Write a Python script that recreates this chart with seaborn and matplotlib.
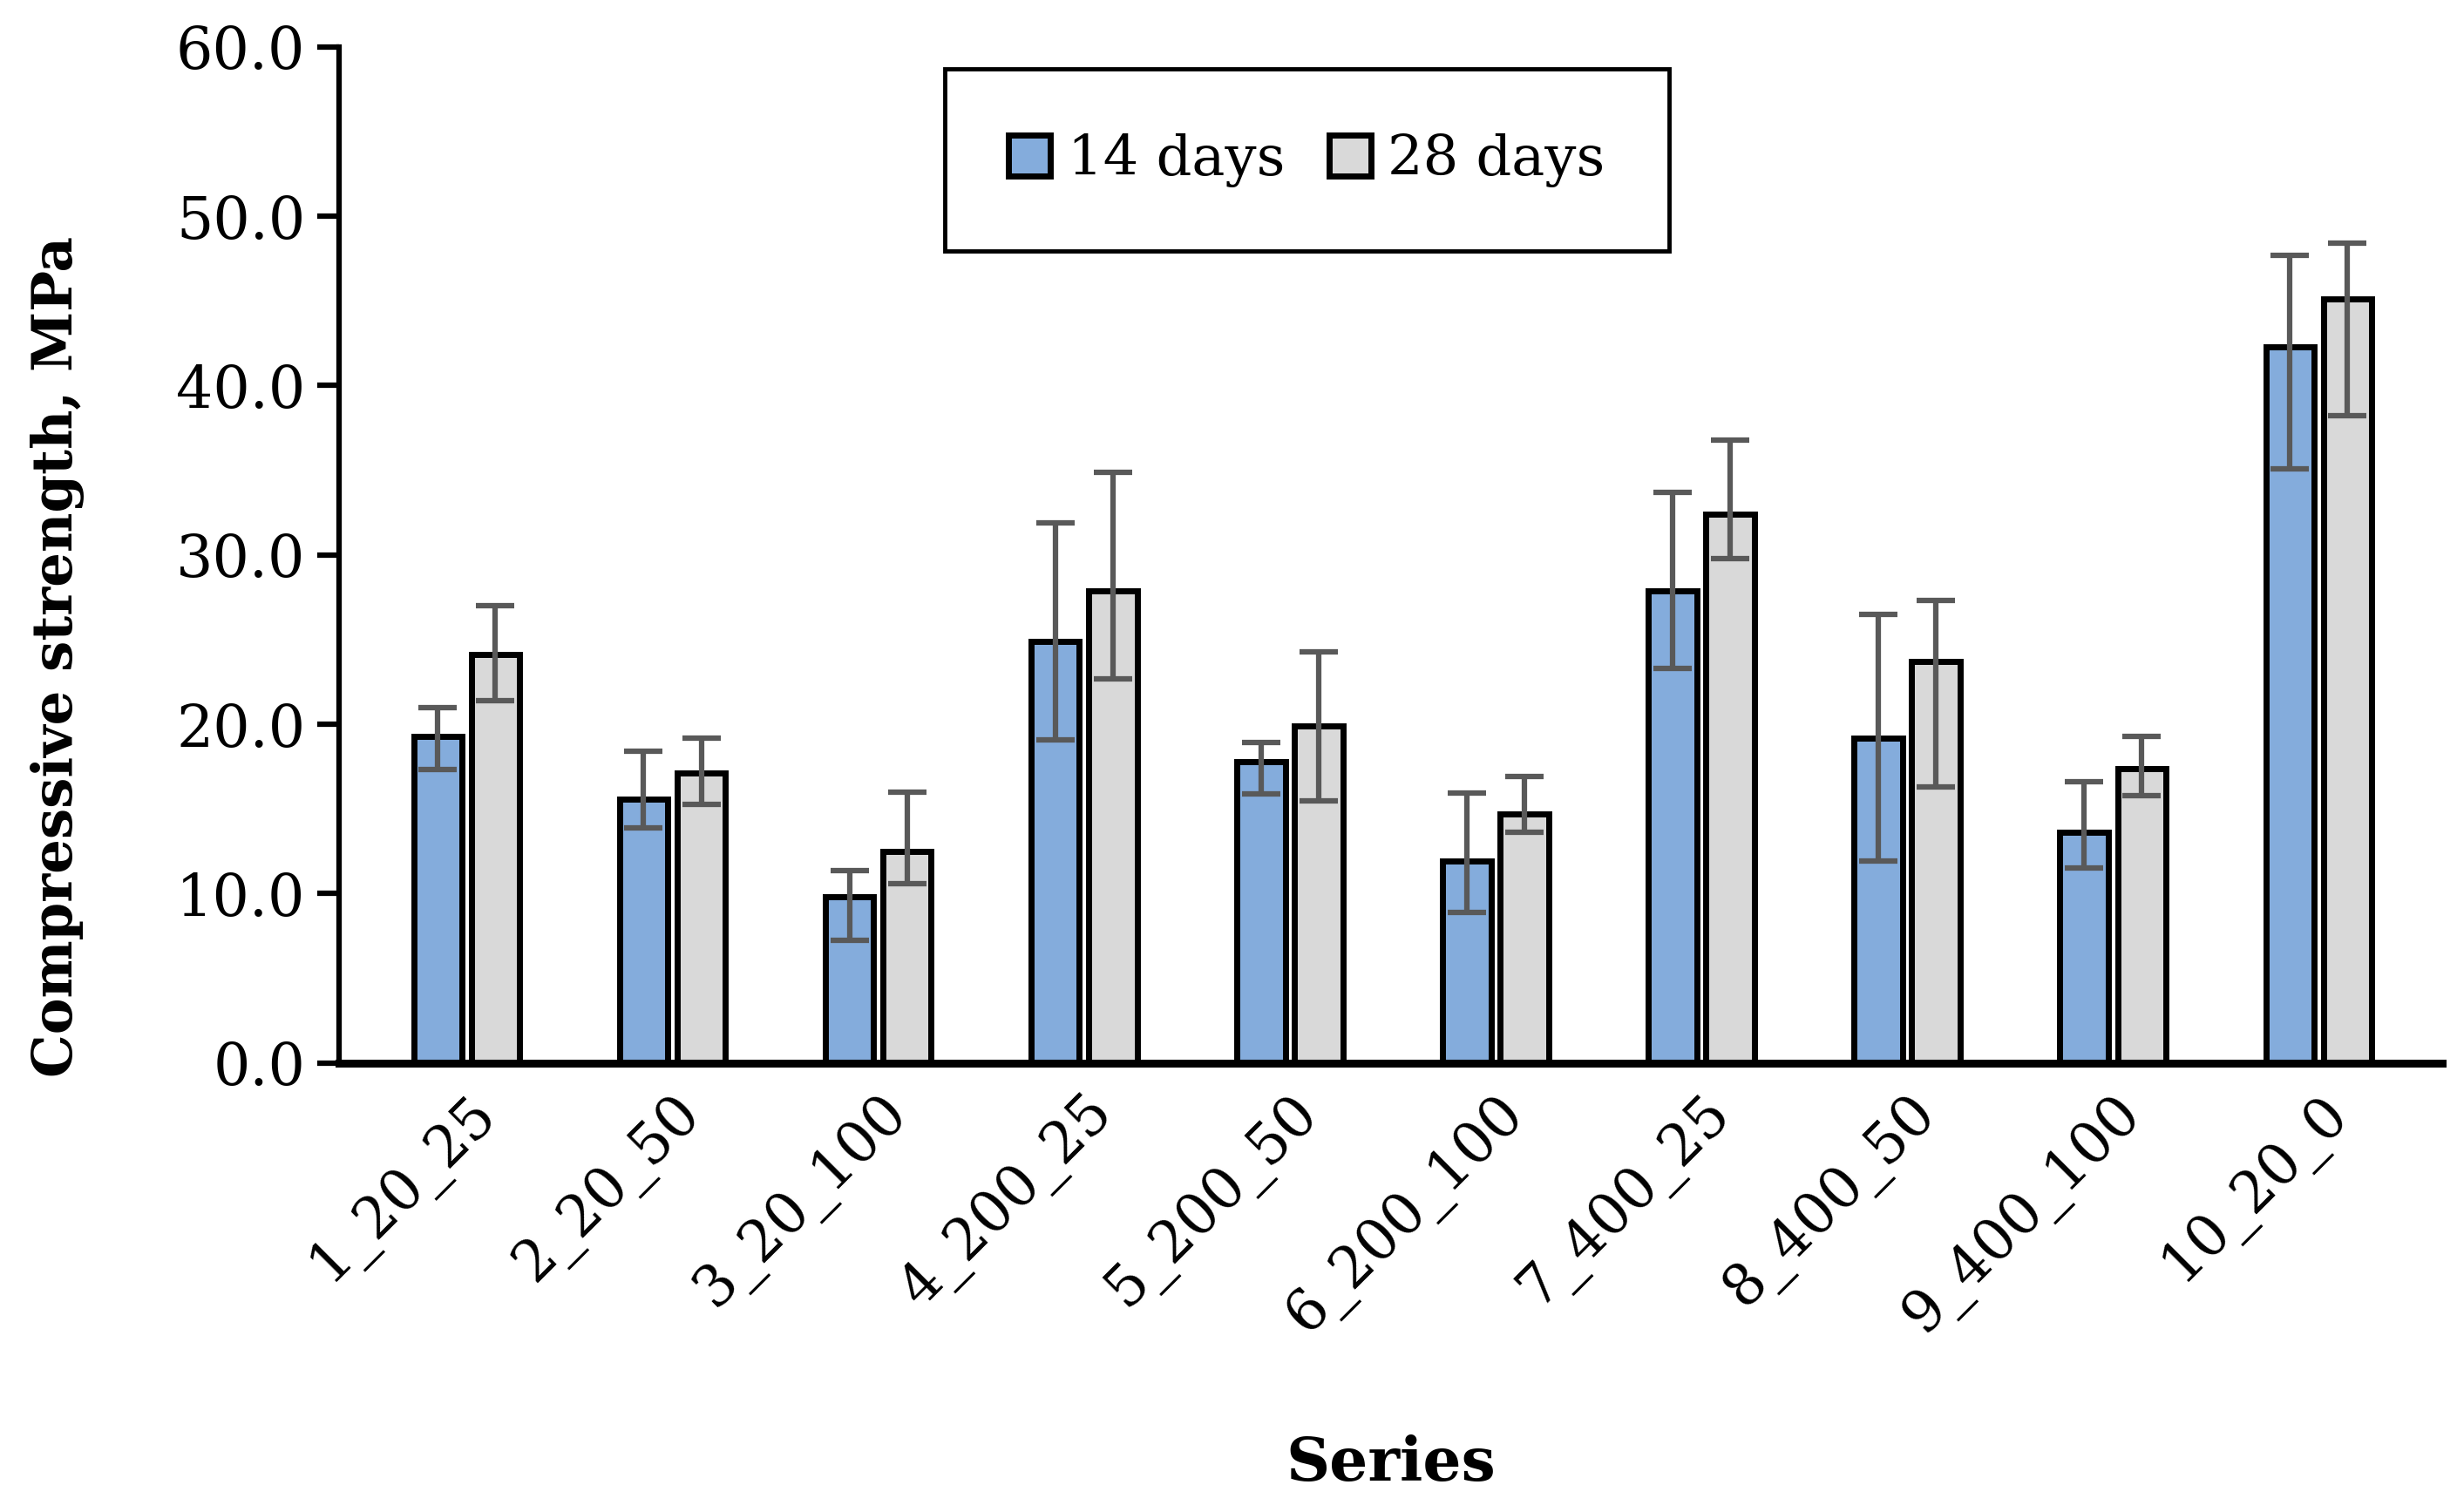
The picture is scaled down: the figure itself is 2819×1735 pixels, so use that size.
import matplotlib
matplotlib.use("Agg")
import matplotlib.pyplot as plt
import seaborn as sns
import pandas as pd
import numpy as np

series = ["1_20_25", "2_20_50", "3_20_100", "4_200_25", "5_200_50",
          "6_200_100", "7_400_25", "8_400_50", "9_400_100", "10_20_0"]
ages = ["14 days", "28 days"]

# mean strength, MPa
s14 = [19.3, 15.6, 9.8, 24.9, 17.8, 11.9, 27.9, 19.2, 13.6, 42.3]
s28 = [24.1, 17.1, 12.5, 27.9, 19.9, 14.7, 32.4, 23.7, 17.4, 45.1]
# error bar ends (low, high), MPa
lo14 = [17.35, 13.9, 7.25, 19.1, 15.9, 8.9, 23.3, 11.9, 11.5, 35.1]
hi14 = [21.0, 18.4, 11.35, 31.9, 18.9, 15.95, 33.7, 26.5, 16.6, 47.7]
lo28 = [21.4, 15.25, 10.6, 22.7, 15.5, 13.6, 29.8, 16.3, 15.8, 38.2]
hi28 = [27.0, 19.2, 16.0, 34.9, 24.3, 16.9, 36.8, 27.3, 19.3, 48.4]

colors = ["#84ACDC", "#D9D9D9"]

df = pd.DataFrame({
    "Series": series * 2,
    "Age": [ages[0]] * len(series) + [ages[1]] * len(series),
    "Strength": s14 + s28,
})

sns.set_style("white")
plt.rcParams["font.family"] = ["DejaVu Serif"]
plt.rcParams["text.color"] = "black"
plt.rcParams["axes.labelcolor"] = "black"
plt.rcParams["xtick.color"] = "black"
plt.rcParams["ytick.color"] = "black"

fig = plt.figure(figsize=(28.19, 17.35), dpi=100)
ax = fig.add_axes([0.138, 0.297, 0.856, 0.672])

sns.barplot(data=df, x="Series", y="Strength", hue="Age", palette=colors,
            saturation=1, width=0.56, gap=0.16, edgecolor="black",
            linewidth=5, errorbar=None, ax=ax)

lows = [lo14, lo28]
highs = [hi14, hi28]
means = [s14, s28]
bar_groups = list(ax.containers)
for k, cont in enumerate(bar_groups):
    xs = [p.get_x() + p.get_width() / 2 for p in cont.patches]
    m = np.array(means[k])
    yerr = [m - np.array(lows[k]), np.array(highs[k]) - m]
    ax.errorbar(xs, m, yerr=yerr, fmt="none", ecolor="#595959",
                elinewidth=4.5, capsize=16, capthick=4.5, zorder=5)

ax.set_ylim(0, 60)
ax.set_xlim(-0.62, 9.6)
ax.set_yticks(np.arange(0, 61, 10))
ax.set_yticklabels([f"{v:.1f}" for v in np.arange(0, 61, 10)], fontsize=48)
ax.set_xticks(range(len(series)))
ax.set_xticklabels(series, rotation=45, ha="right", rotation_mode="anchor",
                   fontsize=47)

for s in ["top", "right"]:
    ax.spines[s].set_visible(False)
ax.spines["left"].set_linewidth(4.5)
ax.spines["bottom"].set_linewidth(6.5)
ax.spines["left"].set_color("black")
ax.spines["bottom"].set_color("black")
ax.tick_params(axis="y", direction="out", length=18, width=4.5, left=True, pad=10)
ax.tick_params(axis="x", length=0, pad=18)

ax.set_ylabel("Compressive strength, MPa", fontsize=45, fontweight="bold")
ax.yaxis.set_label_coords(-0.121, 0.40)
ax.set_xlabel("Series", fontsize=50, fontweight="bold", labelpad=75)

leg = ax.legend(loc="upper left", bbox_to_anchor=(0.288, 0.978), ncol=2,
                fontsize=46, frameon=True, fancybox=False, edgecolor="black",
                framealpha=1, handlelength=0.75, handleheight=0.75,
                handletextpad=0.3, columnspacing=0.8, borderpad=1.15,
                borderaxespad=0)
leg.get_frame().set_linewidth(3.5)

fig.savefig("out.png", dpi=100)
